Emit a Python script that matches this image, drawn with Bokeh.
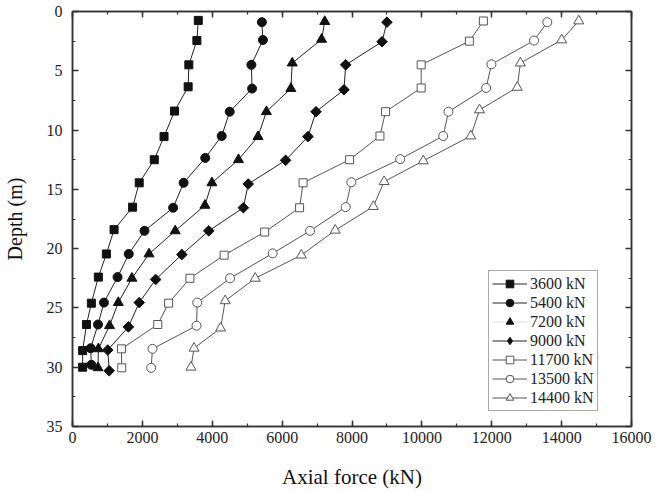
from bokeh.plotting import figure
from bokeh.models import Range1d, LinearAxis, Legend, LegendItem, SingleIntervalTicker
from bokeh.embed import file_html
from bokeh.resources import INLINE
import numpy as np

# ---- data ----
labels = ["3600 kN", "5400 kN", "7200 kN", "9000 kN", "11700 kN", "13500 kN", "14400 kN"]

force_3600 = [3600, 3560, 3330, 3310, 2920, 2620, 2340, 1910, 1720, 1190, 970, 740, 540, 400, 290, 290]
depth_3600 = [0.75, 2.45, 4.5, 6.35, 8.4, 10.55, 12.5, 14.45, 16.5, 18.4, 20.45, 22.4, 24.6, 26.4, 28.6, 30.0]

force_5400 = [5420, 5450, 5120, 5140, 4500, 4270, 3800, 3180, 2880, 2060, 1610, 1290, 900, 730, 520, 540]
depth_5400 = [0.9, 2.4, 4.5, 6.5, 8.45, 10.5, 12.35, 14.45, 16.55, 18.5, 20.45, 22.4, 24.55, 26.4, 28.4, 29.8]

force_7200 = [7220, 7130, 6290, 6250, 5550, 5310, 4750, 3990, 3790, 2940, 2190, 1700, 1310, 1060, 740, 730]
depth_7200 = [0.85, 2.35, 4.35, 6.5, 8.45, 10.55, 12.5, 14.45, 16.35, 18.5, 20.45, 22.5, 24.55, 26.5, 28.45, 30.05]

force_9000 = [9000, 8860, 7820, 7770, 6970, 6740, 6100, 5030, 4890, 3900, 3130, 2380, 1910, 1600, 1010, 1050]
depth_9000 = [0.9, 2.55, 4.5, 6.6, 8.45, 10.55, 12.55, 14.55, 16.55, 18.5, 20.5, 22.6, 24.55, 26.6, 28.55, 30.3]

force_11700 = [11760, 11360, 9980, 9980, 8960, 8800, 7930, 6600, 6500, 5500, 4340, 3360, 2750, 2440, 1400, 1410]
depth_11700 = [0.8, 2.5, 4.5, 6.45, 8.45, 10.5, 12.5, 14.45, 16.55, 18.6, 20.55, 22.5, 24.6, 26.4, 28.45, 30.05]

force_13500 = [13590, 13210, 11990, 11840, 10760, 10610, 9380, 7980, 7820, 6800, 5730, 4510, 3570, 3550, 2290, 2250]
depth_13500 = [0.9, 2.45, 4.45, 6.45, 8.45, 10.5, 12.45, 14.4, 16.5, 18.5, 20.4, 22.5, 24.55, 26.5, 28.45, 30.05]

force_14400 = [14490, 14000, 12820, 12730, 11650, 11400, 10040, 8920, 8610, 7520, 6550, 5230, 4370, 4240, 3480, 3390]
depth_14400 = [0.8, 2.4, 4.35, 6.4, 8.3, 10.5, 12.6, 14.35, 16.45, 18.45, 20.55, 22.5, 24.4, 26.7, 28.4, 30.0]

forces = [force_3600, force_5400, force_7200, force_9000, force_11700, force_13500, force_14400]
depths = [depth_3600, depth_5400, depth_7200, depth_9000, depth_11700, depth_13500, depth_14400]

FONT = "Liberation Serif"
AX = "#333333"

p = figure(width=660, height=492, output_backend="svg", toolbar_location=None,
           x_range=Range1d(0, 16000), y_range=Range1d(35, 0),
           min_border_left=72, min_border_right=29, min_border_top=11, min_border_bottom=66,
           background_fill_color="white", border_fill_color="white")
p.xgrid.visible = False
p.ygrid.visible = False
p.outline_line_color = AX
p.outline_line_width = 1.5

p.xaxis.ticker = SingleIntervalTicker(interval=2000, num_minor_ticks=2)
p.yaxis.ticker = SingleIntervalTicker(interval=5, num_minor_ticks=2)


def style(ax, show):
    ax.axis_line_color = AX
    ax.axis_line_width = 1.5
    ax.major_tick_line_color = AX
    ax.minor_tick_line_color = AX
    ax.major_tick_line_width = 1.5
    ax.minor_tick_line_width = 1.2
    ax.major_tick_in = 6
    ax.major_tick_out = 0
    ax.minor_tick_in = 3
    ax.minor_tick_out = 0
    if show:
        ax.major_label_text_font = FONT
        ax.major_label_text_font_size = "16px"
        ax.major_label_text_color = "#222222"
        ax.axis_label_text_font = FONT
        ax.axis_label_text_font_style = "normal"
        ax.axis_label_text_color = "#111111"
    else:
        ax.major_label_text_font_size = "0px"
        ax.major_label_text_color = None
        ax.major_label_standoff = 0


style(p.xaxis[0], True)
style(p.yaxis[0], True)
p.xaxis.axis_label = "Axial force (kN)"
p.yaxis.axis_label = "Depth (m)"
p.xaxis.axis_label_text_font_size = "21px"
p.yaxis.axis_label_text_font_size = "20px"
p.xaxis.major_label_standoff = 5
p.yaxis.major_label_standoff = 10
p.xaxis.axis_label_standoff = 19
p.yaxis.axis_label_standoff = 18

top = LinearAxis(ticker=SingleIntervalTicker(interval=2000, num_minor_ticks=2))
right = LinearAxis(ticker=SingleIntervalTicker(interval=5, num_minor_ticks=2))
style(top, False)
style(right, False)
p.add_layout(top, "above")
p.add_layout(right, "right")

markers = ["square", "circle", "triangle", "square", "square", "circle", "triangle"]
legend_markers = ["square", "circle", "triangle", "diamond", "square", "circle", "triangle"]
angles = [0, 0, 0, np.pi / 4, 0, 0, 0]
sizes = [8, 9, 10, 7.5, 8, 9, 10]
legend_sizes = [8, 9, 10, 12, 8, 9, 10]
filled = [True, True, True, True, False, False, False]
legend_line_colors = ["#222222", "#222222", "#dddddd", "#222222", "#555555", "#555555", "#555555"]

NAN = [np.nan]
items = []
for lab, f, d, m, lm, a, s, ls, fl, llc in zip(labels, forces, depths, markers, legend_markers,
                                               angles, sizes, legend_sizes, filled, legend_line_colors):
    lc = "#222222" if fl else "#555555"
    fc = "#111111" if fl else "white"
    mc = "#111111" if fl else "#555555"
    lr = p.line(f, d, line_color=lc, line_width=1)
    sr = p.scatter(f, d, marker=m, size=s, angle=a, fill_color=fc, line_color=mc, line_width=1)
    # legend proxies (a single NaN point: nothing is drawn in the plot)
    leg_line = lr if llc == lc else p.line(NAN, NAN, line_color=llc, line_width=1)
    if lm != m or a != 0:
        leg_mark = p.scatter(NAN, NAN, marker=lm, size=ls, fill_color=fc, line_color=mc, line_width=1)
    else:
        leg_mark = sr
    items.append(LegendItem(label=lab, renderers=[leg_line, leg_mark]))

legend = Legend(items=items, location=(416, 15), padding=3, spacing=0, margin=0,
                border_line_color="#555555", border_line_width=1,
                background_fill_color="white", background_fill_alpha=1,
                label_text_font=FONT, label_text_font_size="16px", label_text_color="#222222",
                glyph_width=35, glyph_height=19, label_height=19, label_standoff=3)
p.add_layout(legend)

open("out.html", "w").write(file_html(p, INLINE))
